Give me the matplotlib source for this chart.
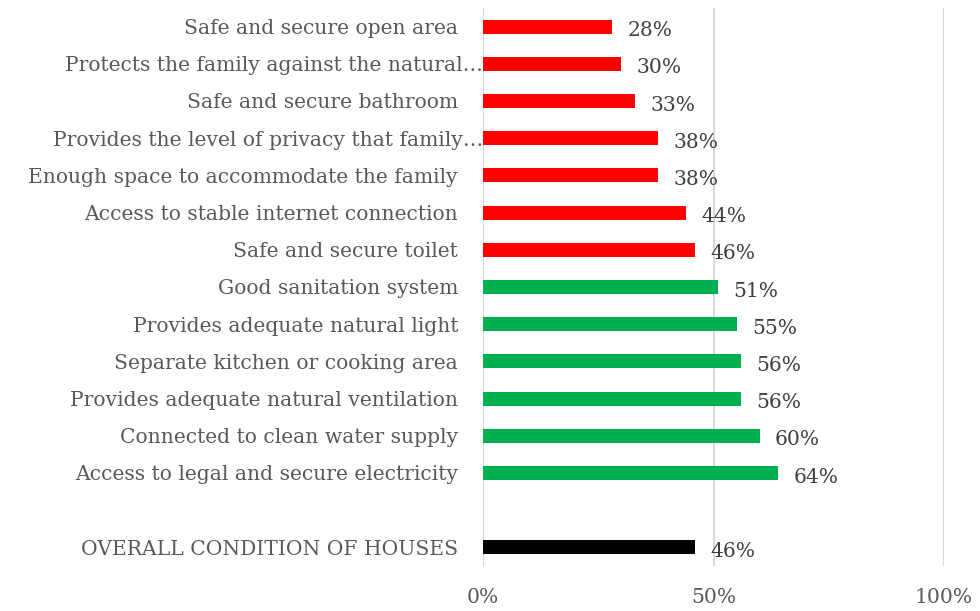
import matplotlib
matplotlib.use('Agg')
import matplotlib.pyplot as plt
import matplotlib.transforms as mtransforms
import numpy as np

# data, top to bottom as shown in the chart
categories = [
    'Safe and secure open area',
    'Protects the family against the natural\u2026',
    'Safe and secure bathroom',
    'Provides the level of privacy that family\u2026',
    'Enough space to accommodate the family',
    'Access to stable internet connection',
    'Safe and secure toilet',
    'Good sanitation system',
    'Provides adequate natural light',
    'Separate kitchen or cooking area',
    'Provides adequate natural ventilation',
    'Connected to clean water supply',
    'Access to legal and secure electricity',
]
values = [28, 30, 33, 38, 38, 44, 46, 51, 55, 56, 56, 60, 64]
overall_label = 'OVERALL CONDITION OF HOUSES'
overall_value = 46
x_ticks = [0, 50, 100]

RED = '#FF0000'
GREEN = '#00B050'
BLACK = '#000000'

plt.rcParams['font.family'] = ['DejaVu Serif']
FS = 14.6

fig = plt.figure(figsize=(9.8, 6.11), dpi=100)
ax = fig.add_axes([483 / 980, 1 - 566 / 611, (944 - 483) / 980, 558 / 611])

n = len(categories)
ypos = np.arange(n + 1, 1, -1)  # 14 .. 2
colors = [RED if v < 50 else GREEN for v in values]
ax.barh(ypos, values, height=0.38, color=colors, zorder=3)
ax.barh([0], [overall_value], height=0.38, color=BLACK, zorder=3)

all_y = list(ypos) + [0]
all_v = values + [overall_value]
for y, v in zip(all_y, all_v):
    ax.annotate(f'{v}%', xy=(v, y), xytext=(11, -3), textcoords='offset points',
                ha='left', va='center', fontsize=FS, color='#404040')

all_labels = categories + [overall_label]
ax.set_yticks(all_y)
ax.set_yticklabels(all_labels, fontsize=FS, color='#595959')
ax.set_ylim(-0.5, 14.5)
ax.set_xlim(0, 100)
ax.set_xticks(x_ticks)
ax.set_xticklabels([f'{t}%' for t in x_ticks], fontsize=FS, color='#595959')
ax.tick_params(axis='y', length=0, pad=18)
ax.tick_params(axis='x', length=0, pad=16)
ax.grid(True, axis='x', color='#D9D9D9', linewidth=1.5, zorder=0)
for s in ax.spines.values():
    s.set_visible(False)

# truncated labels overflow up to the axis line, as in the original
shift = mtransforms.ScaledTranslation(18 / 72, 0, fig.dpi_scale_trans)
for lbl in ax.get_yticklabels():
    if lbl.get_text().endswith('\u2026'):
        lbl.set_transform(lbl.get_transform() + shift)

fig.savefig('out.png', dpi=100)
